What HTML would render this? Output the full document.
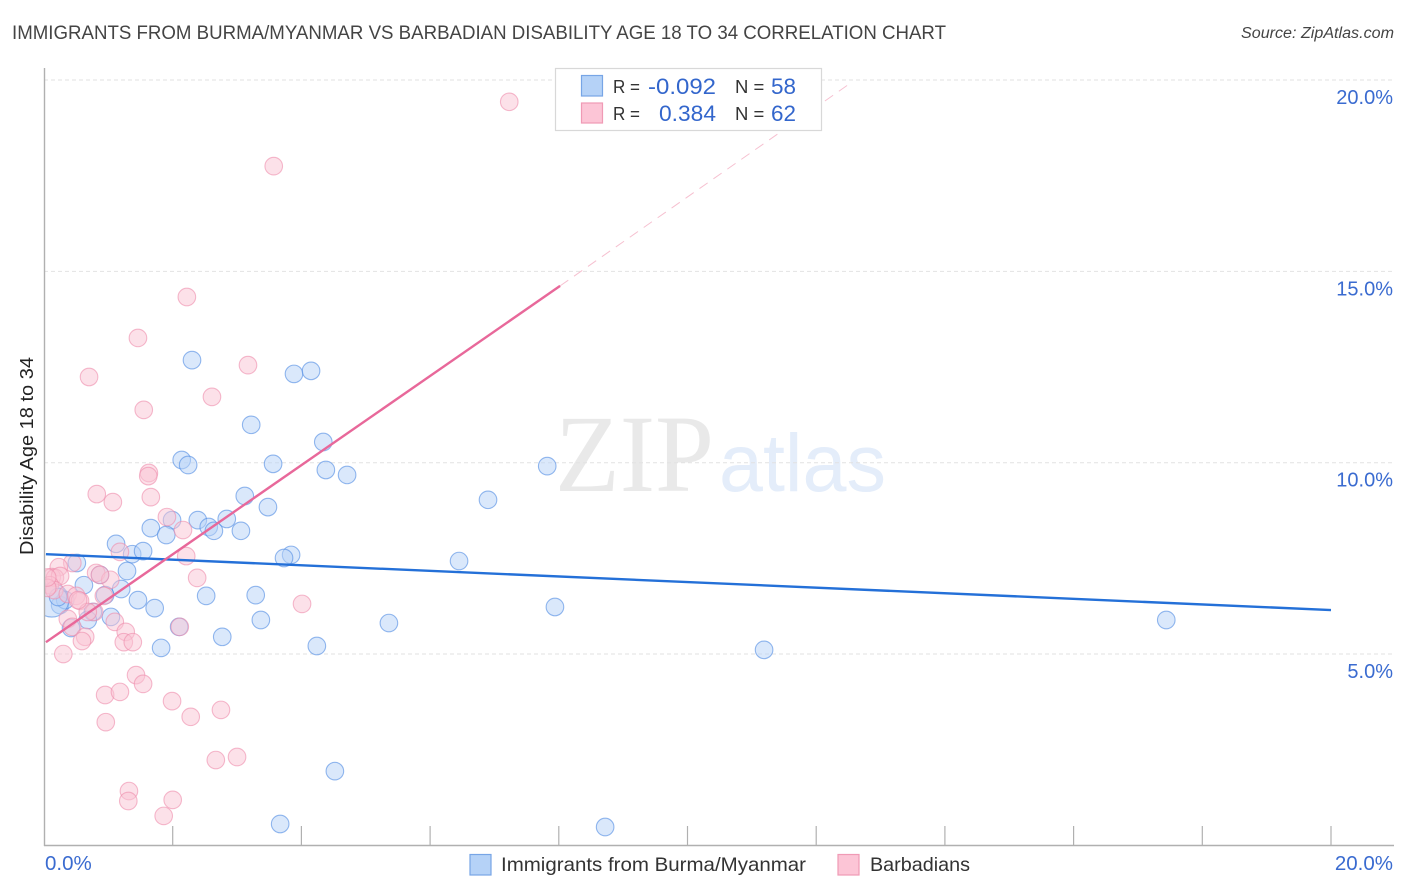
<!DOCTYPE html>
<html>
<head>
<meta charset="utf-8">
<title>Correlation Chart</title>
<style>
html,body{margin:0;padding:0;background:#fff;width:1406px;height:892px;overflow:hidden}
svg{display:block;font-family:"Liberation Sans",sans-serif}
</style>
</head>
<body>
<svg id="chart" width="1406" height="892" viewBox="0 0 1406 892" xmlns="http://www.w3.org/2000/svg">
<defs><clipPath id="plot-clip"><rect x="45" y="60" width="1350" height="785"/></clipPath></defs>
<text x="12" y="39" font-size="19.5" fill="#444" textLength="934" lengthAdjust="spacingAndGlyphs">IMMIGRANTS FROM BURMA/MYANMAR VS BARBADIAN DISABILITY AGE 18 TO 34 CORRELATION CHART</text>
<text x="1241" y="38" font-size="15.5" font-style="italic" fill="#444" textLength="153" lengthAdjust="spacingAndGlyphs">Source: ZipAtlas.com</text>
<text x="555" y="491" font-family="'Liberation Serif',serif" font-size="110" fill="#e9e9e9" textLength="159" lengthAdjust="spacingAndGlyphs">ZIP</text>
<text x="719" y="491" font-size="82" fill="#e4edfa" textLength="167" lengthAdjust="spacingAndGlyphs">atlas</text>
<g id="grid"></g>
<g id="trend-under"></g>
<g id="points" clip-path="url(#plot-clip)"></g>
<g id="trend"></g>
<g id="axes"></g>
<text transform="translate(33,456) rotate(-90)" font-size="18.5" fill="#222" text-anchor="middle" textLength="198" lengthAdjust="spacingAndGlyphs">Disability Age 18 to 34</text>
<g>
<rect x="555.5" y="68.5" width="266" height="62" fill="#fff" stroke="#d8d8d8" stroke-width="1.2"/>
<rect x="581.5" y="75.5" width="21" height="20.5" fill="#b5d2f7" stroke="#77a5e6" stroke-width="1.2"/>
<rect x="581.5" y="103" width="21" height="20" fill="#fcc5d6" stroke="#f09ab5" stroke-width="1.2"/>
<text x="613" y="93" font-size="18.5" fill="#333" textLength="27" lengthAdjust="spacingAndGlyphs">R =</text>
<text x="648" y="94" font-size="22" fill="#3366cc" textLength="68" lengthAdjust="spacingAndGlyphs">-0.092</text>
<text x="735" y="93" font-size="18.5" fill="#333">N =</text>
<text x="771" y="94" font-size="22" fill="#3366cc" textLength="25" lengthAdjust="spacingAndGlyphs">58</text>
<text x="613" y="120" font-size="18.5" fill="#333" textLength="27" lengthAdjust="spacingAndGlyphs">R =</text>
<text x="659" y="121" font-size="22" fill="#3366cc" textLength="57" lengthAdjust="spacingAndGlyphs">0.384</text>
<text x="735" y="120" font-size="18.5" fill="#333">N =</text>
<text x="771" y="121" font-size="22" fill="#3366cc" textLength="25" lengthAdjust="spacingAndGlyphs">62</text>
</g>
<g>
<rect x="470" y="854.5" width="21" height="20.5" fill="#b5d2f7" stroke="#77a5e6" stroke-width="1.2"/>
<text x="501" y="871" font-size="19.5" fill="#333" textLength="305" lengthAdjust="spacingAndGlyphs">Immigrants from Burma/Myanmar</text>
<rect x="838" y="854.5" width="21" height="20.5" fill="#fcc5d6" stroke="#f09ab5" stroke-width="1.2"/>
<text x="870" y="871" font-size="19.5" fill="#333" textLength="100" lengthAdjust="spacingAndGlyphs">Barbadians</text>
</g>
</svg>
<script>
const yTickValues = [5, 10, 15, 20];
const yTickLabels = ["5.0%", "10.0%", "15.0%", "20.0%"];
const xTickValues = [2, 4, 6, 8, 10, 12, 14, 16, 18, 20];
const xEndValues = [0, 20];
const xEndLabels = ["0.0%", "20.0%"];

const blueX = [2.30,3.885,4.15,3.22,4.34,2.14,2.24,3.56,4.38,4.71,7.82,6.90,3.12,3.48,1.99,1.66,1.90,2.39,2.56,2.64,2.84,3.06,1.12,1.37,1.54,3.84,3.73,6.45,1.29,0.51,0.62,0.87,1.20,0.95,1.46,2.52,3.29,1.72,7.94,0.76,1.04,0.68,0.42,3.37,5.36,17.44,2.10,2.77,1.82,4.24,11.19,4.52,3.67,8.72,0.25,0.33,0.12,0.22];
const blueY = [12.68,12.32,12.40,10.99,10.54,10.07,9.94,9.97,9.81,9.68,9.91,9.03,9.13,8.84,8.50,8.29,8.11,8.50,8.32,8.22,8.53,8.22,7.88,7.61,7.69,7.59,7.51,7.43,7.17,7.38,6.80,7.07,6.70,6.54,6.41,6.52,6.54,6.20,6.23,6.10,5.97,5.89,5.68,5.89,5.81,5.89,5.71,5.45,5.16,5.21,5.11,1.94,0.56,0.48,6.28,6.41,6.41,6.49];
const blueSize = [1,1,1,1,1,1,1,1,1,1,1,1,1,1,1,1,1,1,1,1,1,1,1,1,1,1,1,1,1,1,1,1,1,1,1,1,1,1,1,1,1,1,1,1,1,1,1,1,1,1,1,1,1,1,1,1,2,1];

const pinkX = [7.23,3.57,2.22,1.46,3.17,0.70,2.61,1.55,1.63,1.62,0.82,1.66,1.07,1.91,2.16,1.18,2.21,0.44,0.23,2.38,0.81,1.03,0.87,0.12,0.17,0.25,0.09,0.16,0.05,0.37,0.50,0.56,0.93,1.10,0.78,0.37,0.44,1.27,0.64,0.59,1.24,1.38,0.30,4.01,2.11,1.43,1.54,0.95,1.18,1.99,0.96,2.28,2.75,2.67,3.00,1.32,1.31,2.00,1.86,0.68,0.05,0.53];
const pinkY = [19.43,17.75,14.33,13.26,12.55,12.24,11.72,11.38,9.73,9.65,9.18,9.10,8.97,8.58,8.24,7.67,7.56,7.38,7.27,6.99,7.12,6.94,7.07,7.01,6.99,7.04,6.80,6.67,6.73,6.57,6.52,6.39,6.52,5.84,6.10,5.92,5.71,5.58,5.45,5.34,5.31,5.31,5.00,6.31,5.71,4.45,4.22,3.93,4.01,3.77,3.22,3.36,3.54,2.23,2.31,1.42,1.16,1.19,0.77,6.10,7.00,6.41];

const blueTrendX = [0.03, 20];
const blueTrendY = [7.61, 6.15];
const pinkTrendX = [0.03, 8.02];
const pinkTrendY = [5.31, 14.62];
const pinkDashX = [8.02, 12.56];
const pinkDashY = [14.62, 19.95];

const SVGNS = "http://www.w3.org/2000/svg";
function xScale(v) { return 44 + v * 64.35; }
function yScale(v) { return 845.4 - v * 38.27; }
function make(tag, attrs, parent) {
  const el = document.createElementNS(SVGNS, tag);
  for (const k in attrs) el.setAttribute(k, attrs[k]);
  document.getElementById(parent).appendChild(el);
  return el;
}

yTickValues.forEach(function (v, i) {
  const line = make("line", {x1: 44, x2: 1394, y1: yScale(v), y2: yScale(v), stroke: "#e2e2e2", "stroke-width": 1, "stroke-dasharray": "4 3"}, "grid");
  
  
  const label = make("text", {x: 1393, y: yScale(v) + 24, "font-size": 20, fill: "#3a6bd0", "text-anchor": "end"}, "axes");
  
  
  label.textContent = yTickLabels[i];
});

function drawPoints(xs, ys, sizes, fill, stroke, name) {
  xs.forEach(function (x, i) {
    const r = sizes && sizes[i] === 2 ? 17 : 8.8;
    const c = make("circle", {cx: xScale(x), cy: yScale(ys[i]), r: r, fill: fill, "fill-opacity": 0.5, stroke: stroke, "stroke-opacity": 0.6, "stroke-width": 1.1}, "points");
    
    
  });
}
drawPoints(blueX, blueY, blueSize, "#b5d2f7", "#4f8be3", "blue-point");
drawPoints(pinkX, pinkY, null, "#f9c4d4", "#ee8cab", "pink-point");

const bt = make("line", {x1: xScale(blueTrendX[0]), y1: yScale(blueTrendY[0]), x2: xScale(blueTrendX[1]), y2: yScale(blueTrendY[1]), stroke: "#2470d8", "stroke-width": 2.4}, "trend");


const pt = make("line", {x1: xScale(pinkTrendX[0]), y1: yScale(pinkTrendY[0]), x2: xScale(pinkTrendX[1]), y2: yScale(pinkTrendY[1]), stroke: "#e8689a", "stroke-width": 2.4}, "trend");


const pd = make("line", {x1: xScale(pinkDashX[0]), y1: yScale(pinkDashY[0]), x2: xScale(pinkDashX[1]), y2: yScale(pinkDashY[1]), stroke: "#f6c0d0", "stroke-width": 1, "stroke-dasharray": "10 7"}, "trend-under");



const yAxis = make("line", {x1: 44.5, x2: 44.5, y1: 68, y2: 846, stroke: "#b0b0b0", "stroke-width": 1.4}, "axes");


const xAxis = make("line", {x1: 44, x2: 1394, y1: 845.5, y2: 845.5, stroke: "#b0b0b0", "stroke-width": 1.4}, "axes");



xTickValues.forEach(function (v) {
  const t = make("line", {x1: xScale(v), x2: xScale(v), y1: 826, y2: 845, stroke: "#b0b0b0", "stroke-width": 1.2}, "axes");
  
  
});
xEndValues.forEach(function (v, i) {
  const anchor = i === 0 ? "start" : "end";
  const px = i === 0 ? xScale(v) + 1 : 1393;
  const label = make("text", {x: px, y: 870, "font-size": 20.5, fill: "#3a6bd0", "text-anchor": anchor}, "axes");
  
  
  label.textContent = xEndLabels[i];
});
</script>
</body>
</html>
